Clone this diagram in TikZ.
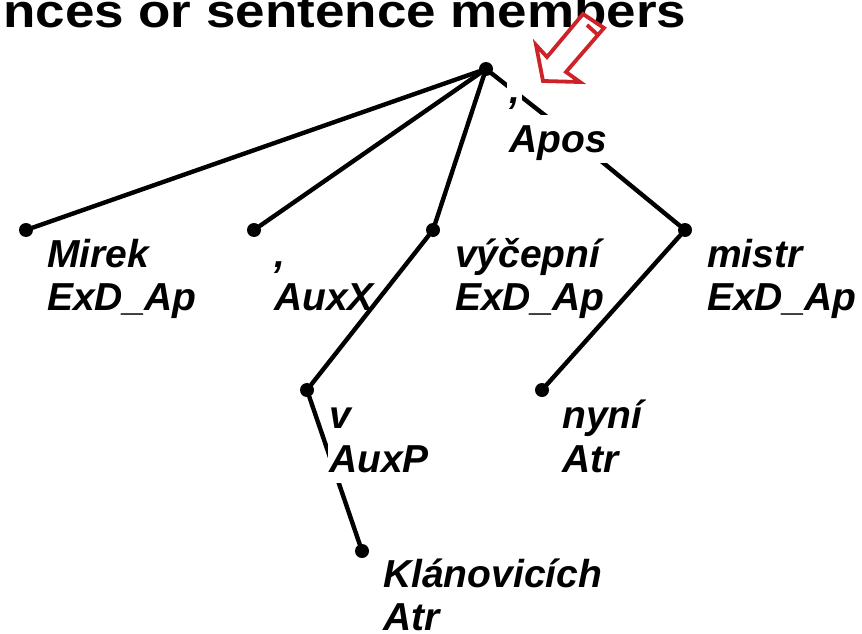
\documentclass[tikz,border=0pt]{standalone}
\usepackage{fontspec}
\usepackage{graphicx}
\setmainfont{Liberation Sans}
\definecolor{arrowred}{RGB}{205,35,40}
\tikzset{
  dot/.style={circle,fill=black,inner sep=0pt,minimum size=14pt},
  edge/.style={line width=4.4pt,line cap=round},
  lab/.style={anchor=base west,inner sep=0pt,font=\fontsize{39}{44}\selectfont\bfseries\itshape},
  cover/.style={lab,fill=white},
  ttl/.style={anchor=base west,inner sep=0pt,font=\fontsize{47}{50}\selectfont\bfseries},
  bigarrow/.style={draw=arrowred,line width=3.8pt,fill=white,line join=miter}
}
\begin{document}
\begin{tikzpicture}[x=1pt,y=-1pt]
\useasboundingbox (0,0) rectangle (862,634);
\clip (0,0) rectangle (862,634);
% title
\node[ttl] (title) at (3,28) {\scalebox{1.127}[1]{nces or sentence members}};
% dots
\node[dot] (root) at (486,69) {};
\node[dot] (mirek) at (26,230) {};
\node[dot] (auxx) at (254,230) {};
\node[dot] (vyc) at (433,230) {};
\node[dot] (mistr) at (685,230) {};
\node[dot] (v) at (307,390) {};
\node[dot] (nyni) at (542,390) {};
\node[dot] (klan) at (362,551) {};
\coordinate (apos) at (556,124);
% edges
\draw[edge] (root) -- (mirek);
\draw[edge] (root) -- (auxx);
\draw[edge] (root) -- (vyc);
\draw[edge] (root) -- (apos);
\draw[edge] (apos) -- (mistr);
\draw[edge] (vyc) -- (v);
\draw[edge] (v) -- (klan);
\draw[edge] (mistr) -- (nyni);
% labels
\node[lab] (l1a) at (47,267) {Mirek};
\node[lab] (l1b) at (47,310) {ExD\_Ap};
\node[lab] (l2a) at (274,267) {,};
\node[lab] (l2b) at (274,310) {AuxX};
\node[lab] (l3a) at (455,267) {výčepní};
\node[lab] (l3b) at (455,310) {ExD\_Ap};
\node[lab] (l4a) at (707,267) {mistr};
\node[lab] (l4b) at (707,310) {ExD\_Ap};
\node[lab] (l5a) at (329,428) {v};
\node[cover,inner xsep=1pt,text height=27pt,text depth=11pt] (l5b) at (328,472) {AuxP};
\node[lab] (l6a) at (562,428) {nyní};
\node[lab] (l6b) at (562,472) {Atr};
\node[lab] (l7a) at (383,587) {Klánovicích};
\node[lab] (l7b) at (383,630) {Atr};
\node[cover,inner xsep=2pt,text height=23pt,text depth=8pt] (l8a) at (507,103) {,};
\node[cover,text height=37pt,text depth=11pt] (l8b) at (509,152) {Apos};
% red arrow
\draw[bigarrow] (583,14) -- (604,28) -- (566,72) -- (580,82) -- (543,81) -- (536,45) -- (547,57) -- cycle;
\coordinate (s1) at (587,25);
\coordinate (s2) at (598,35);
\draw[draw=arrowred,line width=3.8pt] (s1) -- (s2);
\end{tikzpicture}
\end{document}
